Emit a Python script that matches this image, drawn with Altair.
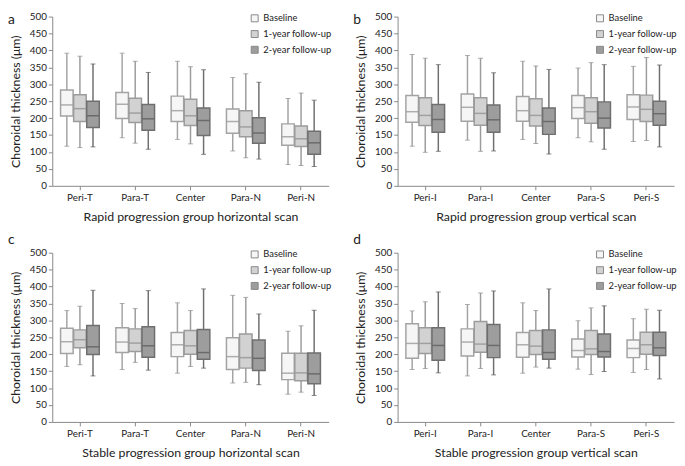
import altair as alt
import pandas as pd

GROUPS = ["Baseline", "1-year follow-up", "2-year follow-up"]
H_CATS = ["Peri-T", "Para-T", "Center", "Para-N", "Peri-N"]
V_CATS = ["Peri-I", "Para-I", "Center", "Para-S", "Peri-S"]
Y_TICKS = [0, 50, 100, 150, 200, 250, 300, 350, 400, 450, 500]

# Panel a: rapid progression, horizontal scan (per category: Baseline, 1y, 2y)
a_high = [392, 383, 360, 392, 368, 335, 368, 352, 343, 320, 331, 306, 258, 274, 253]
a_q3 = [283, 269, 250, 276, 259, 240, 265, 256, 230, 227, 222, 201, 183, 177, 161]
a_med = [239, 228, 207, 241, 215, 198, 222, 207, 193, 190, 174, 156, 145, 139, 127]
a_q1 = [206, 190, 172, 199, 187, 164, 190, 178, 149, 155, 145, 126, 120, 116, 93]
a_low = [117, 113, 115, 142, 126, 108, 137, 124, 93, 103, 83, 79, 63, 60, 57]

# Panel b: rapid progression, vertical scan
b_high = [388, 377, 358, 385, 377, 334, 368, 354, 344, 348, 364, 358, 353, 379, 357]
b_q3 = [267, 260, 240, 271, 260, 239, 264, 257, 230, 267, 260, 248, 269, 268, 250]
b_med = [219, 208, 196, 232, 214, 195, 222, 208, 190, 231, 219, 200, 233, 226, 213]
b_q1 = [188, 178, 158, 191, 179, 158, 191, 177, 152, 199, 185, 171, 196, 190, 179]
b_low = [117, 99, 102, 135, 102, 103, 137, 125, 94, 142, 130, 108, 131, 134, 115]

# Panel c: stable progression, horizontal scan
c_high = [329, 342, 389, 350, 335, 388, 352, 329, 393, 374, 368, 319, 268, 284, 330]
c_q3 = [277, 272, 285, 278, 275, 281, 264, 270, 273, 249, 260, 242, 203, 203, 204]
c_med = [237, 243, 222, 236, 233, 225, 228, 225, 205, 193, 190, 188, 144, 145, 142]
c_q1 = [202, 219, 199, 205, 208, 191, 193, 200, 185, 155, 159, 152, 125, 122, 113]
c_low = [164, 169, 136, 155, 176, 153, 144, 164, 159, 115, 117, 110, 82, 88, 78]

# Panel d: stable progression, vertical scan
d_high = [328, 355, 384, 347, 381, 387, 352, 329, 393, 299, 337, 343, 305, 333, 330]
d_q3 = [290, 278, 278, 275, 297, 288, 264, 270, 272, 245, 270, 260, 242, 265, 265]
d_med = [232, 232, 226, 236, 230, 226, 228, 224, 205, 211, 216, 208, 217, 228, 219]
d_q1 = [188, 202, 182, 195, 206, 190, 191, 199, 185, 192, 199, 192, 190, 200, 196]
d_low = [155, 158, 145, 136, 158, 139, 144, 162, 159, 156, 140, 149, 146, 155, 127]

FILL_COLORS = ["#f6f6f6", "#d2d2d2", "#9d9d9d"]
STROKE_COLORS = ["#a3a3a3", "#9c9c9c", "#6f6f6f"]
TICK_COLORS = ["#8f8f8f", "#8a8a8a", "#555555"]

FONT = "Lato"
TXT = "#222222"
W, H = 281, 172


def make_df(cats, low, q1, med, q3, high):
    rows = []
    i = 0
    for c in cats:
        for g in GROUPS:
            rows.append(dict(cat=c, group=g, grp=g, low=low[i], q1=q1[i], med=med[i],
                             q3=q3[i], high=high[i]))
            i += 1
    return pd.DataFrame(rows)


YSCALE = alt.Scale(domain=[0, 500], nice=False)
YAXIS = alt.Axis(values=Y_TICKS, grid=False, tickColor="#888888", tickSize=4,
                 domainColor="#888888", labelFont=FONT, labelFontSize=10,
                 labelColor=TXT, labelPadding=2, labelOverlap=False,
                 titleFont=FONT, titleFontSize=12.5,
                 titleFontWeight="normal", titleColor=TXT, titlePadding=7)


def Y(field):
    return alt.Y(field, scale=YSCALE, axis=YAXIS, title="Choroidal thickness (μm)")


def panel(df, cats, title, letter, letter_y):
    x = alt.X(
        "cat:N", sort=cats, title=title,
        scale=alt.Scale(paddingInner=0.3, paddingOuter=0.15),
        axis=alt.Axis(labelAngle=0, labelFont=FONT, labelFontSize=10, labelColor=TXT,
                      tickColor="#888888", tickSize=4, domainColor="#888888",
                      labelPadding=3, titleFont=FONT, titleFontSize=12.5,
                      titleFontWeight="normal", titleColor=TXT, titlePadding=8),
    )
    xo = alt.XOffset("group:N", sort=GROUPS, scale=alt.Scale(paddingInner=0.04))
    stroke = alt.Stroke("grp:N", sort=GROUPS, scale=alt.Scale(range=STROKE_COLORS), legend=None)
    color = alt.Color("grp:N", sort=GROUPS, scale=alt.Scale(range=TICK_COLORS), legend=None)
    fill = alt.Fill(
        "group:N", sort=GROUPS,
        scale=alt.Scale(domain=GROUPS, range=FILL_COLORS),
        legend=alt.Legend(orient="none", legendX=201, legendY=-3, direction="vertical",
                          title=None, symbolType="square", symbolSize=50,
                          symbolStrokeColor="#888888", symbolStrokeWidth=1,
                          labelFont=FONT, labelFontSize=9.5, labelColor=TXT,
                          rowPadding=4, labelOffset=4),
    )
    base = alt.Chart(df).encode(x=x, xOffset=xo)
    lower = base.mark_rule(strokeWidth=1.5).encode(y=Y("low:Q"), y2="q1:Q", stroke=stroke)
    upper = base.mark_rule(strokeWidth=1.5).encode(y=Y("q3:Q"), y2="high:Q", stroke=stroke)
    cap_lo = base.mark_tick(size=5, thickness=1).encode(y=Y("low:Q"), color=color)
    cap_hi = base.mark_tick(size=5, thickness=1).encode(y=Y("high:Q"), color=color)
    box = base.mark_bar(strokeWidth=1.5).encode(y=Y("q1:Q"), y2="q3:Q", fill=fill, stroke=stroke)
    med = base.mark_tick(size=12, thickness=1.5).encode(y=Y("med:Q"), color=color)
    lab = alt.Chart(pd.DataFrame({"t": [letter]})).mark_text(
        font=FONT, fontSize=14, align="left", baseline="alphabetic", color=TXT
    ).encode(text="t:N", x=alt.value(-45), y=alt.value(letter_y))
    return alt.layer(lower, upper, cap_lo, cap_hi, box, med, lab).properties(width=W, height=H)


pa = panel(make_df(H_CATS, a_low, a_q1, a_med, a_q3, a_high), H_CATS,
           "Rapid progression group horizontal scan", "a", 8)
pb = panel(make_df(V_CATS, b_low, b_q1, b_med, b_q3, b_high), V_CATS,
           "Rapid progression group vertical scan", "b", 8)
pc = panel(make_df(H_CATS, c_low, c_q1, c_med, c_q3, c_high), H_CATS,
           "Stable progression group horizontal scan", "c", -9)
pd_ = panel(make_df(V_CATS, d_low, d_q1, d_med, d_q3, d_high), V_CATS,
            "Stable progression group vertical scan", "d", -9)


def res(ch):
    return ch.resolve_scale(fill="independent", stroke="independent",
                            color="independent").resolve_legend(fill="independent")


row1 = res(alt.hconcat(pa, pb, spacing=22))
row2 = res(alt.hconcat(pc, pd_, spacing=22))
chart = res(alt.vconcat(row1, row2, spacing=10)).properties(padding=0).configure_view(stroke=None)

chart.save("out.html", embed_options={"renderer": "svg", "actions": False})
